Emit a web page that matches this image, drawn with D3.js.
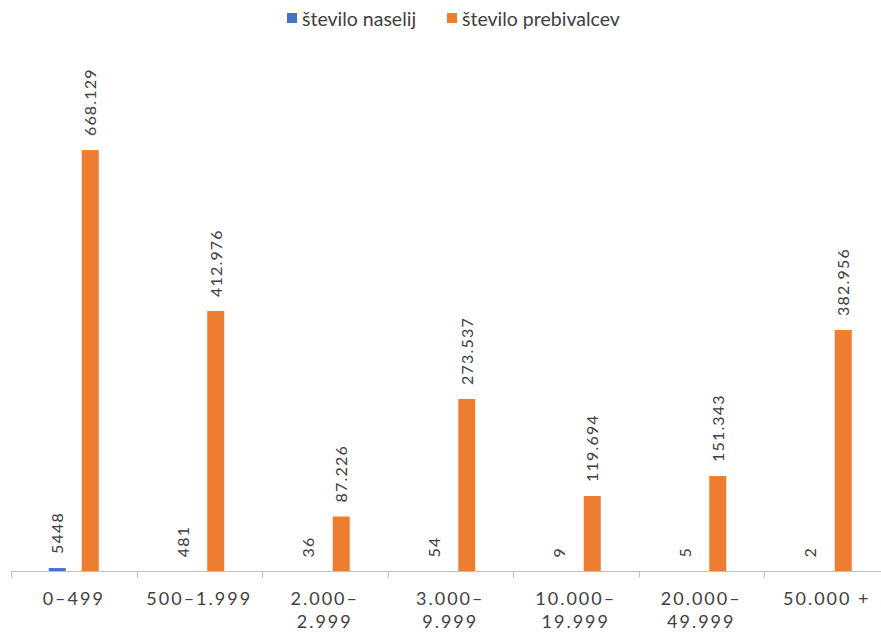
<!DOCTYPE html>
<html>
<head>
<meta charset="utf-8">
<script src="https://cdn.jsdelivr.net/npm/d3@7"></script>
<style>
  body { margin: 0; background: #fff; }
  svg text { font-family: Lato, "Open Sans", sans-serif; fill: #404040; }
</style>
</head>
<body>
<svg width="881" height="633"></svg>
<script>
// data
var categories = ["0–499", "500–1.999", "2.000–|2.999", "3.000–|9.999", "10.000–|19.999", "20.000–|49.999", "50.000 +"];
var seriesNames = ["število naselij", "število prebivalcev"];
var naselja = [5448, 481, 36, 54, 9, 5, 2];
var prebivalci = [668129, 412976, 87226, 273537, 119694, 151343, 382956];
var colors = ["#4472C4", "#ED7D31"];

var svg = d3.select("svg");
var baseY = 571.5;

var xScale = d3.scaleBand().domain(categories).range([11, 889.5]);
var x1 = d3.scaleBand().domain([0, 1]).range([0, xScale.bandwidth()]).paddingInner(0.485).paddingOuter(1.144);
var yScale = d3.scaleLinear().domain([0, 700000]).range([baseY, 130]);

var rows = categories.map(function(c, i) {
    return { cat: c, vals: [naselja[i], prebivalci[i]] };
});

var fmtDot = function(v) { return d3.format(",")(v).replace(/,/g, "."); };

// bars
var groups = svg.selectAll(".grp")
    .data(rows)
    .enter().append("g")
    .attr("transform", function(d) { return "translate(" + xScale(d.cat) + ",0)"; });

groups.selectAll("rect")
    .data(function(d) { return d.vals; })
    .enter().append("rect")
    .attr("x", function(d, j) { return x1(j); })
    .attr("width", x1.bandwidth())
    .attr("y", function(d) { return yScale(d); })
    .attr("height", function(d) { return baseY - yScale(d); })
    .style("fill", function(d, j) { return colors[j]; });

// value labels, rotated
groups.selectAll(".lbl")
    .data(function(d) { return d.vals; })
    .enter().append("text")
    .attr("transform", function(d, j) {
        var cx = x1(j) + x1.bandwidth() / 2 + 6;
        var cy = yScale(d) - 14;
        return "translate(" + cx + "," + cy + ") rotate(-90)";
    })
    .attr("font-size", "16px")
    .attr("letter-spacing", "1.2px")
    .text(function(d, j) { return j == 0 ? d : fmtDot(d); });

// axis line + ticks at category boundaries
svg.append("line")
    .attr("x1", 11).attr("x2", 881)
    .attr("y1", baseY).attr("y2", baseY)
    .attr("stroke", "#bfbfbf").attr("stroke-width", 1);

var bounds = categories.map(function(c) { return xScale(c); }).concat([xScale.range()[1]]);
svg.selectAll(".tick")
    .data(bounds)
    .enter().append("line")
    .attr("x1", function(d) { return Math.round(d) + 0.5; })
    .attr("x2", function(d) { return Math.round(d) + 0.5; })
    .attr("y1", baseY).attr("y2", baseY + 6)
    .attr("stroke", "#bfbfbf");

// category labels
var catLbl = svg.selectAll(".cat")
    .data(categories)
    .enter().append("text")
    .attr("text-anchor", "middle")
    .attr("font-size", "18px")
    .attr("letter-spacing", "2px")
    .attr("x", function(d) { return xScale(d) + xScale.bandwidth() / 2; })
    .attr("y", 605);

catLbl.selectAll("tspan")
    .data(function(d) { return d.split("|"); })
    .enter().append("tspan")
    .attr("x", function() { return d3.select(this.parentNode).attr("x"); })
    .attr("dy", function(d, i) { return i == 0 ? 0 : 23; })
    .text(function(d) { return d; });

// legend
var legX = [287, 447];
var leg = svg.selectAll(".leg")
    .data(seriesNames)
    .enter().append("g")
    .attr("transform", function(d, i) { return "translate(" + legX[i] + ",0)"; });
leg.append("rect")
    .attr("x", 0).attr("y", 13)
    .attr("width", 10).attr("height", 10)
    .style("fill", function(d, i) { return colors[i]; });
leg.append("text")
    .attr("x", 15).attr("y", 26)
    .attr("font-size", "19.5px")
    .text(function(d) { return d; });
</script>
</body>
</html>
